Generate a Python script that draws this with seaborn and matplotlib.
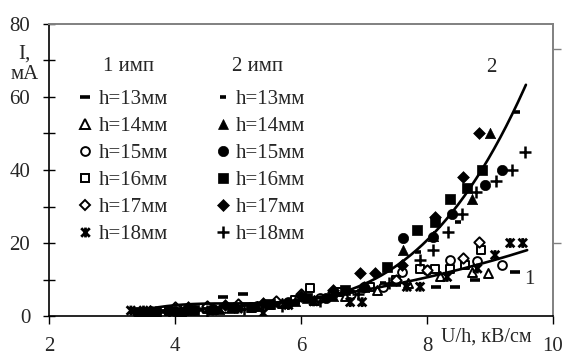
import numpy as np
import matplotlib
matplotlib.use("Agg")
import matplotlib.pyplot as plt
from matplotlib.path import Path
from matplotlib.lines import Line2D
import seaborn as sns

sns.set_theme(style="white")
plt.rcParams['font.family'] = ['Liberation Serif', 'DejaVu Serif']

# ---------------- data ----------------
# 1 имп (open markers)
x1_13 = [3.6, 4.2, 4.76, 5.08, 5.5, 6.0, 6.5, 7.0, 7.5, 8.15, 8.44, 8.76, 9.4]
y1_13 = [1.2, 1.5, 5.2, 6.0, 3.0, 4.5, 5.5, 7.0, 8.5, 8.0, 8.0, 10.0, 12.0]
x1_14 = [3.5, 4.1, 4.6, 5.2, 5.7, 6.2, 6.7, 7.2, 7.7, 8.2, 8.71, 8.97]
y1_14 = [1.0, 1.3, 2.0, 2.5, 3.5, 4.5, 5.5, 7.0, 9.0, 11.0, 12.0, 11.8]
x1_15 = [3.7, 4.3, 4.8, 5.3, 5.8, 6.3, 6.8, 7.3, 7.6, 8.0, 8.37, 8.8, 9.19]
y1_15 = [1.2, 1.6, 2.2, 2.8, 3.8, 5.0, 6.0, 8.0, 12.0, 12.5, 15.3, 15.0, 14.0]
x1_16 = [3.9, 4.5, 5.0, 5.5, 5.9, 6.14, 6.6, 7.1, 7.5, 7.89, 8.13, 8.37, 8.6, 8.86]
y1_16 = [1.3, 1.8, 2.5, 3.0, 4.5, 7.7, 6.5, 8.0, 10.0, 13.0, 13.0, 13.0, 14.0, 18.0]
x1_17 = [3.6, 4.0, 4.5, 5.0, 5.6, 6.0, 6.5, 7.0, 7.5, 8.0, 8.57, 8.83]
y1_17 = [1.5, 2.5, 2.8, 3.2, 4.0, 6.0, 6.5, 8.0, 10.0, 12.5, 16.0, 20.3]
x1_18 = [3.3, 3.5, 3.7, 3.9, 4.2, 4.6, 5.0, 5.4, 5.8, 6.2, 6.78, 6.97, 7.68, 7.89, 8.32, 8.8, 9.08, 9.32, 9.52]
y1_18 = [1.5, 1.5, 1.3, 1.5, 1.2, 1.5, 2.0, 0.8, 3.0, 4.0, 3.8, 3.8, 8.0, 8.0, 10.7, 13.0, 16.7, 20.0, 20.0]

# 2 имп (filled markers)
x2_13 = [3.8, 4.4, 5.0, 5.6, 6.2, 6.8, 7.3, 7.86, 8.49, 9.43]
y2_13 = [1.2, 1.6, 2.2, 3.2, 4.5, 6.5, 9.0, 17.5, 25.7, 56.0]
x2_14 = [3.5, 4.1, 4.7, 5.3, 5.9, 6.5, 7.0, 7.62, 8.1, 8.71, 9.0]
y2_14 = [1.0, 1.4, 2.0, 2.8, 4.0, 5.5, 8.0, 18.0, 22.0, 32.0, 50.0]
x2_15 = [3.4, 4.0, 4.6, 5.2, 5.8, 6.4, 7.0, 7.62, 8.1, 8.4, 8.92, 9.19]
y2_15 = [1.0, 1.3, 1.8, 2.5, 3.5, 5.0, 8.0, 21.4, 21.6, 28.0, 36.0, 40.0]
x2_16 = [3.7, 4.3, 4.9, 5.5, 6.1, 6.7, 7.36, 7.84, 8.13, 8.37, 8.63, 8.87]
y2_16 = [1.2, 1.6, 2.2, 3.2, 5.0, 7.0, 13.4, 23.5, 25.7, 32.0, 35.0, 40.0]
x2_17 = [3.6, 4.2, 4.8, 5.4, 6.0, 6.5, 6.94, 7.17, 7.6, 8.13, 8.57, 8.83]
y2_17 = [1.5, 2.5, 3.0, 3.5, 5.5, 7.0, 11.8, 11.8, 14.0, 27.0, 38.0, 50.0]
x2_18 = [3.9, 4.5, 5.1, 5.7, 6.3, 6.9, 7.4, 7.89, 8.1, 8.33, 8.56, 8.78, 9.1, 9.35, 9.55]
y2_18 = [1.2, 1.5, 2.0, 2.8, 4.0, 6.0, 9.0, 15.3, 18.0, 23.0, 28.0, 34.0, 37.0, 40.0, 45.0]

# trend lines (a polynomial is fitted)
t1_x = [3.3, 5.0, 6.0, 7.0, 8.0, 8.63, 9.56]
t1_y = [1.3, 2.8, 4.5, 7.0, 10.5, 13.5, 17.8]
t2_x = [3.3, 5.0, 6.0, 7.0, 7.46, 8.05, 8.43, 8.84, 9.11, 9.37, 9.54]
t2_y = [1.0, 2.5, 5.0, 9.0, 12.6, 22.7, 29.0, 38.0, 46.8, 55.6, 63.3]

labels = ["h=13мм", "h=14мм", "h=15мм", "h=16мм", "h=17мм", "h=18мм"]
title1, title2 = "1 имп", "2 имп"
xticks = [2, 4, 6, 8, 10]
yticks = [0, 20, 40, 60, 80]

# ---------------- styling ----------------
star = Path([(-1, -1), (1, 1), (-1, 1), (1, -1), (0, -1.15), (0, 1.15)],
            [Path.MOVETO, Path.LINETO, Path.MOVETO, Path.LINETO, Path.MOVETO, Path.LINETO])

open_series = [(x1_13, y1_13), (x1_14, y1_14), (x1_15, y1_15),
               (x1_16, y1_16), (x1_17, y1_17), (x1_18, y1_18)]
fill_series = [(x2_13, y2_13), (x2_14, y2_14), (x2_15, y2_15),
               (x2_16, y2_16), (x2_17, y2_17), (x2_18, y2_18)]

# (marker, size, facecolor, edgecolor, linewidth, kind)
open_styles = [("_", 55, "black", "black", 2.6, "line"),
               ("^", 42, "white", "black", 1.4, "fill"),
               ("o", 40, "white", "black", 1.4, "fill"),
               ("s", 40, "white", "black", 1.4, "fill"),
               ("D", 28, "white", "black", 1.4, "fill"),
               (star, 50, "none", "black", 2.0, "path")]
fill_styles = [("_", 18, "black", "black", 2.6, "line"),
               ("^", 55, "black", "black", 0.5, "fill"),
               ("o", 55, "black", "black", 0.5, "fill"),
               ("s", 55, "black", "black", 0.5, "fill"),
               ("D", 36, "black", "black", 0.5, "fill"),
               ("+", 65, "black", "black", 1.8, "line")]

fig = plt.figure(figsize=(5.64, 3.56), dpi=100)
ax = fig.add_axes([49 / 564, 1 - 316 / 356, 504 / 564, 292 / 356])

def draw(series, styles):
    for (xs, ys), (m, s, fc, ec, lw, kind) in zip(series, styles):
        if kind == "line":
            sns.scatterplot(x=xs, y=ys, marker=m, s=s, color="black", linewidth=lw,
                            ax=ax, zorder=3)
        elif kind == "path":
            sns.scatterplot(x=xs, y=ys, marker=m, s=s, facecolor="none",
                            edgecolor="black", linewidth=lw, ax=ax, zorder=3)
        else:
            sns.scatterplot(x=xs, y=ys, marker=m, s=s, color=fc, edgecolor=ec,
                            linewidth=lw, ax=ax, zorder=3)

draw(open_series, open_styles)
draw(fill_series, fill_styles)

# trend curves
xx1 = np.linspace(3.3, 9.59, 200)
c1 = np.polyfit(t1_x, t1_y, 3)
sns.lineplot(x=xx1, y=np.polyval(c1, xx1), color="black", linewidth=1.9, ax=ax, zorder=4)
xx2 = np.linspace(3.3, 9.57, 200)
c2 = np.polyfit(t2_x, t2_y, 3)
sns.lineplot(x=xx2, y=np.polyval(c2, xx2), color="black", linewidth=1.9, ax=ax, zorder=4)

ax.text(9.02, 68, "2", fontsize=15, ha="center", va="center")
ax.text(9.63, 10, "1", fontsize=15, ha="center", va="center")

# axes
ax.set_xlim(2, 10)
ax.set_ylim(0, 80)
ax.set_xticks(xticks)
ax.set_yticks(yticks)
ax.set_yticks([10, 30, 50, 70], minor=True)
ax.tick_params(axis="x", which="major", direction="out", length=6, width=1.0,
               labelsize=15, pad=9, color="black", bottom=True)
ax.tick_params(axis="y", which="both", direction="inout", length=9, width=1.0,
               labelsize=15, pad=9, color="black", left=True)
for side in ("left", "bottom"):
    ax.spines[side].set_color("black")
    ax.spines[side].set_linewidth(1.2)
for side in ("top", "right"):
    ax.spines[side].set_color("#808080")
    ax.spines[side].set_linewidth(1.4)
    ax.spines[side].set_visible(True)

ax.set_ylabel("I,\nмА", rotation=0, fontsize=15, ha="center", va="center", linespacing=1.1)
ax.yaxis.set_label_coords(-0.048, 0.862)
ax.set_xlabel("U/h, кВ/см", fontsize=14.5, ha="center", va="top")
ax.xaxis.set_label_coords(0.868, -0.04)

# right side ticks
ax2 = ax.twinx()
ax2.set_ylim(0, 80)
ax2.set_yticks([20, 73.2])
ax2.set_yticklabels([])
ax2.tick_params(axis="y", direction="out", length=6, width=1.0, color="#808080", right=True)
for s in ax2.spines.values():
    s.set_visible(False)

# legend
def handle(style):
    m, s, fc, ec, lw, kind = style
    ms = np.sqrt(s)
    if kind == "line":
        return Line2D([], [], linestyle="none", marker=m, markersize=ms,
                      color="black", markeredgewidth=lw)
    if kind == "path":
        return Line2D([], [], linestyle="none", marker=m, markersize=ms,
                      markerfacecolor="none", markeredgecolor="black", markeredgewidth=lw)
    return Line2D([], [], linestyle="none", marker=m, markersize=ms,
                  markerfacecolor=fc, markeredgecolor=ec, markeredgewidth=lw)

handles = [handle(s) for s in open_styles] + [handle(s) for s in fill_styles]
labs = labels + labels
ax.legend(handles, labs, ncol=2, loc="upper left", bbox_to_anchor=(0.06, 0.776),
          frameon=False, fontsize=15, handlelength=0.6, handletextpad=0.35,
          labelspacing=0.36, columnspacing=2.3, borderpad=0, borderaxespad=0)
ax.text(0.107, 0.853, title1, transform=ax.transAxes, fontsize=15, ha="left", va="center")
ax.text(0.363, 0.853, title2, transform=ax.transAxes, fontsize=15, ha="left", va="center")

fig.savefig("out.png", dpi=100)
